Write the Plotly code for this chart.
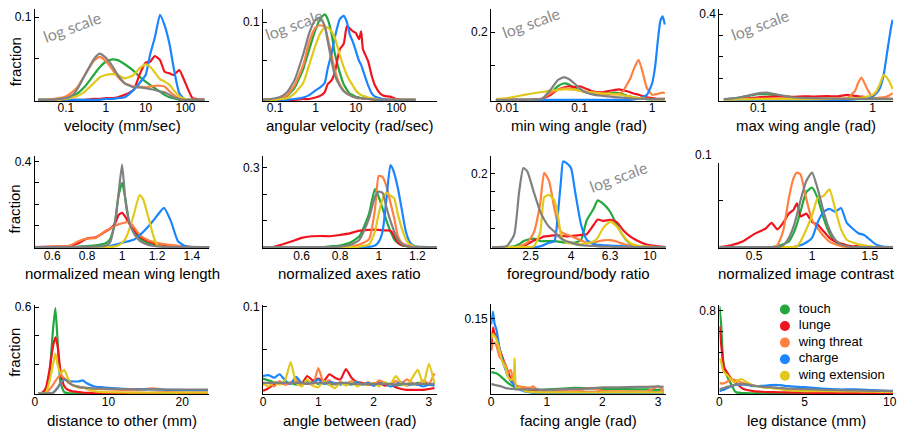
import plotly.graph_objects as go

W, H = 909, 433

NAMES = ["touch", "lunge", "wing threat", "charge", "wing extension", "other"]
COLORS = ["#22a83c", "#f0141e", "#ff8040", "#1a85ff", "#e3c81c", "#808080"]
LEGEND_NAMES = ["touch", "lunge", "wing threat", "charge", "wing extension"]

# ---- Panel 1: velocity (mm/sec), log x
VEL_X = [0.02, 0.03, 0.05, 0.07, 0.1, 0.15, 0.2, 0.3, 0.5, 0.7, 1, 1.5, 2, 3, 5, 7, 10, 13, 17, 23, 30, 40, 50, 70, 100, 150, 200, 300]
VEL_TOUCH = [0, 0, 0, 0.001, 0.002, 0.005, 0.008, 0.016, 0.03, 0.039, 0.046, 0.049, 0.048, 0.043, 0.035, 0.028, 0.022, 0.018, 0.014, 0.01, 0.006, 0.003, 0.002, 0, 0, 0, 0, 0]
VEL_LUNGE = [0, 0, 0, 0, 0, 0, 0, 0, 0.001, 0.001, 0.002, 0.002, 0.003, 0.006, 0.012, 0.03, 0.045, 0.046, 0.053, 0.048, 0.034, 0.032, 0.03, 0.036, 0.02, 0.002, 0.001, 0]
VEL_THREAT = [0, 0, 0.001, 0.002, 0.004, 0.01, 0.016, 0.03, 0.047, 0.052, 0.047, 0.036, 0.028, 0.02, 0.016, 0.016, 0.015, 0.016, 0.017, 0.017, 0.016, 0.01, 0.006, 0.001, 0, 0, 0, 0]
VEL_CHARGE = [0, 0, 0, 0, 0, 0, 0, 0, 0, 0, 0.001, 0.001, 0.002, 0.003, 0.012, 0.02, 0.03, 0.055, 0.075, 0.103, 0.09, 0.067, 0.04, 0.008, 0, 0, 0, 0]
VEL_WINGEXT = [0, 0, 0, 0, 0.001, 0.003, 0.005, 0.01, 0.02, 0.027, 0.03, 0.031, 0.03, 0.026, 0.03, 0.038, 0.043, 0.04, 0.033, 0.025, 0.022, 0.018, 0.012, 0.004, 0.001, 0, 0, 0]
VEL_OTHER = [0, 0, 0, 0.001, 0.002, 0.006, 0.014, 0.03, 0.049, 0.056, 0.051, 0.04, 0.03, 0.02, 0.015, 0.015, 0.014, 0.013, 0.012, 0.01, 0.009, 0.006, 0.003, 0.001, 0, 0, 0, 0]

# ---- Panel 2: angular velocity (rad/sec), log x
ANG_X = [0.03, 0.05, 0.1, 0.15, 0.2, 0.3, 0.5, 0.7, 1, 1.3, 1.7, 2, 2.5, 3, 4, 5, 6, 7, 8.5, 10, 12, 13.5, 15, 20, 25, 30, 40, 50, 70, 100, 150, 300]
ANG_TOUCH = [0, 0, 0.001, 0.003, 0.005, 0.015, 0.04, 0.065, 0.09, 0.104, 0.11, 0.104, 0.085, 0.06, 0.035, 0.02, 0.013, 0.008, 0.006, 0.004, 0.003, 0.002, 0.002, 0.001, 0.001, 0, 0, 0, 0, 0, 0, 0]
ANG_LUNGE = [0, 0, 0, 0, 0, 0, 0.001, 0.001, 0.003, 0.005, 0.01, 0.02, 0.025, 0.035, 0.065, 0.072, 0.095, 0.092, 0.088, 0.086, 0.078, 0.088, 0.065, 0.05, 0.03, 0.018, 0.008, 0.005, 0.004, 0.001, 0, 0]
ANG_THREAT = [0, 0, 0.001, 0.003, 0.006, 0.018, 0.045, 0.075, 0.093, 0.096, 0.094, 0.08, 0.058, 0.038, 0.02, 0.012, 0.008, 0.006, 0.004, 0.003, 0.002, 0.002, 0.001, 0.001, 0, 0, 0, 0, 0, 0, 0, 0]
ANG_CHARGE = [0, 0, 0, 0, 0, 0.001, 0.003, 0.006, 0.012, 0.016, 0.022, 0.04, 0.06, 0.08, 0.104, 0.108, 0.1, 0.085, 0.074, 0.063, 0.05, 0.045, 0.038, 0.019, 0.008, 0.004, 0.002, 0.001, 0, 0, 0, 0]
ANG_WINGEXT = [0, 0, 0, 0.001, 0.002, 0.008, 0.022, 0.045, 0.07, 0.085, 0.093, 0.093, 0.088, 0.08, 0.058, 0.042, 0.032, 0.025, 0.018, 0.012, 0.008, 0.006, 0.005, 0.003, 0.002, 0.001, 0, 0, 0, 0, 0, 0]
ANG_OTHER = [0, 0, 0.002, 0.005, 0.01, 0.025, 0.059, 0.086, 0.103, 0.106, 0.095, 0.076, 0.05, 0.032, 0.018, 0.011, 0.008, 0.006, 0.004, 0.003, 0.002, 0.002, 0.002, 0.001, 0.001, 0, 0, 0, 0, 0, 0, 0]

# ---- Panel 3: min wing angle (rad), log x
MIN_X = [0.007, 0.01, 0.015, 0.02, 0.03, 0.04, 0.05, 0.06, 0.07, 0.085, 0.1, 0.125, 0.15, 0.2, 0.25, 0.3, 0.35, 0.4, 0.45, 0.5, 0.57, 0.65, 0.75, 0.85, 1, 1.1, 1.2, 1.3, 1.4, 1.5]
MIN_TOUCH = [0, 0, 0, 0, 0.002, 0.02, 0.04, 0.048, 0.046, 0.035, 0.028, 0.022, 0.02, 0.018, 0.019, 0.021, 0.02, 0.016, 0.012, 0.01, 0.007, 0.005, 0.003, 0.002, 0.001, 0.001, 0.001, 0.001, 0.001, 0.001]
MIN_LUNGE = [0, 0, 0, 0, 0.003, 0.015, 0.03, 0.036, 0.04, 0.038, 0.04, 0.032, 0.025, 0.022, 0.026, 0.029, 0.031, 0.028, 0.025, 0.022, 0.018, 0.015, 0.01, 0.007, 0.005, 0.004, 0.003, 0.003, 0.003, 0.003]
MIN_THREAT = [0, 0, 0, 0, 0.003, 0.02, 0.03, 0.034, 0.033, 0.03, 0.027, 0.022, 0.019, 0.017, 0.016, 0.016, 0.018, 0.027, 0.045, 0.063, 0.095, 0.118, 0.077, 0.034, 0.015, 0.016, 0.017, 0.02, 0.021, 0.02]
MIN_CHARGE = [0, 0, 0, 0, 0, 0, 0, 0, 0, 0, 0, 0, 0, 0, 0, 0, 0, 0, 0, 0, 0.001, 0.003, 0.008, 0.015, 0.048, 0.097, 0.174, 0.232, 0.246, 0.222]
MIN_WINGEXT = [0.002, 0.005, 0.012, 0.017, 0.023, 0.027, 0.029, 0.031, 0.031, 0.03, 0.027, 0.024, 0.022, 0.019, 0.018, 0.017, 0.015, 0.013, 0.011, 0.01, 0.007, 0.005, 0.004, 0.003, 0.002, 0.001, 0.001, 0.001, 0.001, 0.001]
MIN_OTHER = [0, 0, 0, 0, 0.002, 0.03, 0.058, 0.066, 0.062, 0.048, 0.034, 0.021, 0.016, 0.012, 0.01, 0.008, 0.007, 0.006, 0.005, 0.004, 0.003, 0.003, 0.003, 0.002, 0.002, 0.002, 0.002, 0.002, 0.002, 0.002]

# ---- Panel 4: max wing angle (rad), log x
MAX_X = [0.05, 0.06, 0.07, 0.085, 0.1, 0.12, 0.15, 0.2, 0.25, 0.3, 0.4, 0.5, 0.6, 0.7, 0.75, 0.8, 0.9, 1, 1.08, 1.15, 1.25, 1.35, 1.45, 1.5]
MAX_TOUCH = [0.003, 0.006, 0.012, 0.02, 0.026, 0.026, 0.02, 0.012, 0.008, 0.006, 0.004, 0.003, 0.003, 0.003, 0.003, 0.003, 0.003, 0.003, 0.003, 0.003, 0.003, 0.003, 0.003, 0.003]
MAX_LUNGE = [0.001, 0.002, 0.004, 0.008, 0.012, 0.014, 0.016, 0.014, 0.016, 0.015, 0.017, 0.016, 0.023, 0.018, 0.016, 0.015, 0.012, 0.008, 0.005, 0.004, 0.004, 0.004, 0.004, 0.004]
MAX_THREAT = [0.001, 0.002, 0.003, 0.004, 0.005, 0.006, 0.007, 0.007, 0.007, 0.006, 0.006, 0.006, 0.008, 0.04, 0.08, 0.104, 0.05, 0.012, 0.008, 0.01, 0.012, 0.016, 0.025, 0.032]
MAX_CHARGE = [0, 0, 0, 0, 0, 0, 0, 0, 0, 0, 0, 0, 0, 0.002, 0.004, 0.006, 0.01, 0.015, 0.03, 0.05, 0.115, 0.23, 0.336, 0.374]
MAX_WINGEXT = [0.001, 0.001, 0.002, 0.002, 0.003, 0.003, 0.003, 0.003, 0.003, 0.003, 0.004, 0.005, 0.006, 0.007, 0.008, 0.01, 0.015, 0.023, 0.04, 0.069, 0.115, 0.1, 0.069, 0.05]
MAX_OTHER = [0.003, 0.007, 0.012, 0.022, 0.03, 0.034, 0.023, 0.012, 0.009, 0.008, 0.006, 0.005, 0.004, 0.004, 0.004, 0.004, 0.004, 0.004, 0.004, 0.004, 0.004, 0.004, 0.004, 0.004]

# ---- Panel 5: normalized mean wing length
WL_X = [0.5, 0.6, 0.65, 0.7, 0.75, 0.8, 0.85, 0.9, 0.93, 0.96, 0.98, 1.0, 1.02, 1.04, 1.07, 1.1, 1.12, 1.15, 1.18, 1.2, 1.24, 1.28, 1.32, 1.36, 1.4, 1.5]
WL_TOUCH = [0, 0, 0, 0, 0.002, 0.005, 0.008, 0.015, 0.035, 0.12, 0.24, 0.3, 0.22, 0.12, 0.07, 0.043, 0.03, 0.018, 0.01, 0.006, 0.003, 0.002, 0.001, 0, 0, 0]
WL_LUNGE = [0, 0.002, 0.003, 0.006, 0.018, 0.04, 0.046, 0.07, 0.085, 0.11, 0.15, 0.16, 0.14, 0.11, 0.08, 0.05, 0.04, 0.027, 0.018, 0.012, 0.007, 0.004, 0.002, 0.001, 0, 0]
WL_THREAT = [0, 0.001, 0.003, 0.006, 0.027, 0.04, 0.043, 0.073, 0.085, 0.1, 0.106, 0.111, 0.115, 0.119, 0.091, 0.058, 0.045, 0.032, 0.024, 0.02, 0.014, 0.01, 0.006, 0.003, 0.001, 0]
WL_CHARGE = [0, 0, 0, 0, 0, 0, 0, 0.002, 0.005, 0.01, 0.015, 0.02, 0.024, 0.028, 0.035, 0.055, 0.07, 0.096, 0.125, 0.146, 0.183, 0.12, 0.027, 0.005, 0, 0]
WL_WINGEXT = [0, 0, 0, 0, 0, 0, 0, 0, 0.001, 0.003, 0.008, 0.02, 0.04, 0.08, 0.16, 0.243, 0.225, 0.14, 0.05, 0.01, 0, 0, 0, 0, 0, 0]
WL_OTHER = [0, 0, 0, 0, 0, 0.001, 0.002, 0.005, 0.02, 0.12, 0.25, 0.385, 0.21, 0.12, 0.06, 0.03, 0.02, 0.01, 0.005, 0.003, 0.001, 0, 0, 0, 0, 0]

# ---- Panel 6: normalized axes ratio
AR_X = [0.4, 0.45, 0.5, 0.55, 0.6, 0.65, 0.7, 0.75, 0.8, 0.85, 0.9, 0.95, 0.98, 1.0, 1.02, 1.04, 1.06, 1.07, 1.08, 1.1, 1.12, 1.14, 1.16, 1.18, 1.2, 1.3]
AR_TOUCH = [0, 0, 0, 0, 0, 0, 0, 0.003, 0.006, 0.016, 0.041, 0.127, 0.22, 0.189, 0.146, 0.1, 0.06, 0.045, 0.028, 0.015, 0.006, 0.003, 0.001, 0, 0, 0]
AR_LUNGE = [0, 0, 0.01, 0.022, 0.035, 0.041, 0.042, 0.041, 0.046, 0.052, 0.062, 0.065, 0.066, 0.065, 0.064, 0.063, 0.062, 0.055, 0.041, 0.016, 0.008, 0.004, 0.002, 0.001, 0, 0]
AR_THREAT = [0, 0, 0, 0, 0, 0, 0, 0, 0, 0.002, 0.01, 0.03, 0.14, 0.27, 0.265, 0.23, 0.17, 0.14, 0.11, 0.04, 0.015, 0.008, 0.004, 0.002, 0, 0]
AR_CHARGE = [0, 0, 0, 0, 0, 0, 0, 0, 0, 0, 0, 0.001, 0.006, 0.02, 0.06, 0.183, 0.31, 0.3, 0.28, 0.22, 0.14, 0.06, 0.02, 0.006, 0.002, 0]
AR_WINGEXT = [0, 0, 0, 0, 0, 0, 0, 0, 0, 0, 0.002, 0.01, 0.059, 0.127, 0.183, 0.205, 0.195, 0.19, 0.185, 0.121, 0.07, 0.03, 0.01, 0.004, 0.001, 0]
AR_OTHER = [0, 0, 0, 0, 0, 0, 0, 0, 0.002, 0.008, 0.028, 0.109, 0.19, 0.21, 0.205, 0.15, 0.1, 0.08, 0.059, 0.028, 0.012, 0.005, 0.002, 0, 0, 0]

# ---- Panel 7: foreground/body ratio, log x
FG_X = [1.6, 1.9, 2.07, 2.19, 2.3, 2.41, 2.6, 2.8, 2.93, 3.1, 3.3, 3.45, 3.56, 3.65, 3.8, 4.0, 4.2, 4.5, 4.8, 5.2, 5.45, 5.8, 6.3, 6.8, 7.35, 7.9, 8.6, 9.6, 11, 12]
FG_TOUCH = [0, 0, 0.002, 0.008, 0.016, 0.02, 0.023, 0.016, 0.016, 0.016, 0.016, 0.015, 0.014, 0.013, 0.012, 0.012, 0.012, 0.02, 0.073, 0.104, 0.127, 0.118, 0.096, 0.06, 0.029, 0.01, 0.003, 0.001, 0, 0]
FG_LUNGE = [0, 0, 0, 0, 0.002, 0.008, 0.018, 0.024, 0.029, 0.03, 0.032, 0.032, 0.031, 0.03, 0.029, 0.03, 0.031, 0.033, 0.035, 0.06, 0.075, 0.071, 0.074, 0.068, 0.045, 0.03, 0.018, 0.007, 0.002, 0]
FG_THREAT = [0, 0, 0, 0.002, 0.006, 0.012, 0.04, 0.12, 0.202, 0.18, 0.104, 0.06, 0.042, 0.038, 0.034, 0.03, 0.025, 0.018, 0.012, 0.012, 0.015, 0.018, 0.019, 0.015, 0.008, 0.004, 0.002, 0.001, 0, 0]
FG_CHARGE = [0, 0, 0, 0, 0, 0, 0, 0.002, 0.006, 0.012, 0.016, 0.1, 0.18, 0.233, 0.228, 0.215, 0.149, 0.06, 0.02, 0.008, 0.006, 0.005, 0.004, 0.003, 0.002, 0.001, 0, 0, 0, 0]
FG_WINGEXT = [0, 0, 0, 0, 0, 0, 0.002, 0.04, 0.135, 0.142, 0.127, 0.08, 0.034, 0.02, 0.012, 0.01, 0.009, 0.008, 0.01, 0.015, 0.025, 0.051, 0.069, 0.056, 0.03, 0.012, 0.004, 0.001, 0, 0]
FG_OTHER = [0, 0.003, 0.034, 0.149, 0.215, 0.206, 0.149, 0.096, 0.075, 0.055, 0.042, 0.03, 0.024, 0.02, 0.016, 0.012, 0.008, 0.005, 0.004, 0.003, 0.002, 0.001, 0.001, 0, 0, 0, 0, 0, 0, 0]

# ---- Panel 8: normalized image contrast
IC_X = [0.2, 0.3, 0.4, 0.45, 0.5, 0.55, 0.6, 0.65, 0.7, 0.75, 0.8, 0.84, 0.87, 0.9, 0.95, 1.0, 1.05, 1.1, 1.15, 1.2, 1.25, 1.3, 1.35, 1.4, 1.45, 1.5, 1.55, 1.6, 1.7]
IC_TOUCH = [0, 0, 0, 0, 0, 0, 0, 0, 0.001, 0.003, 0.006, 0.015, 0.025, 0.038, 0.059, 0.064, 0.052, 0.031, 0.015, 0.006, 0.002, 0.001, 0, 0, 0, 0, 0, 0, 0]
IC_LUNGE = [0, 0.002, 0.006, 0.01, 0.014, 0.017, 0.02, 0.026, 0.019, 0.026, 0.036, 0.04, 0.047, 0.033, 0.036, 0.027, 0.024, 0.017, 0.01, 0.006, 0.004, 0.002, 0.001, 0.001, 0, 0, 0, 0, 0]
IC_THREAT = [0, 0, 0, 0, 0, 0, 0, 0, 0.002, 0.017, 0.053, 0.074, 0.08, 0.078, 0.052, 0.029, 0.02, 0.012, 0.006, 0.003, 0.001, 0, 0, 0, 0, 0, 0, 0, 0]
IC_CHARGE = [0, 0, 0, 0, 0, 0, 0, 0, 0, 0, 0, 0, 0.001, 0.002, 0.005, 0.01, 0.027, 0.038, 0.041, 0.038, 0.042, 0.026, 0.02, 0.015, 0.013, 0.008, 0.003, 0.001, 0]
IC_WINGEXT = [0, 0, 0, 0, 0, 0, 0, 0, 0, 0, 0, 0, 0.001, 0.006, 0.019, 0.034, 0.053, 0.055, 0.062, 0.041, 0.019, 0.008, 0.005, 0.003, 0.002, 0.001, 0, 0, 0]
IC_OTHER = [0, 0, 0, 0, 0, 0, 0, 0, 0, 0.002, 0.01, 0.022, 0.035, 0.05, 0.071, 0.08, 0.062, 0.038, 0.019, 0.008, 0.003, 0.001, 0, 0, 0, 0, 0, 0, 0]

# ---- Panel 9: distance to other (mm)
DIST_X = [0.5, 1, 1.5, 2, 2.5, 2.8, 3.1, 3.5, 4, 4.5, 5, 6, 6.5, 7, 8, 9, 10, 12, 14, 16, 18, 20, 22, 23.5]
DIST_TOUCH = [0, 0.001, 0.016, 0.14, 0.457, 0.593, 0.367, 0.072, 0.009, 0.002, 0, 0, 0, 0, 0, 0, 0, 0, 0, 0, 0, 0, 0, 0]
DIST_LUNGE = [0, 0.005, 0.038, 0.163, 0.333, 0.39, 0.33, 0.15, 0.05, 0.025, 0.016, 0.009, 0.006, 0.004, 0.003, 0.003, 0.003, 0.003, 0.003, 0.003, 0.008, 0.003, 0.003, 0.003]
DIST_THREAT = [0, 0, 0.005, 0.027, 0.061, 0.085, 0.106, 0.129, 0.106, 0.077, 0.061, 0.045, 0.04, 0.038, 0.033, 0.03, 0.027, 0.025, 0.024, 0.035, 0.022, 0.02, 0.02, 0.02]
DIST_CHARGE = [0, 0, 0, 0, 0.005, 0.02, 0.038, 0.072, 0.095, 0.09, 0.084, 0.084, 0.09, 0.072, 0.05, 0.043, 0.038, 0.032, 0.03, 0.027, 0.025, 0.023, 0.022, 0.022]
DIST_WINGEXT = [0, 0, 0.005, 0.084, 0.208, 0.276, 0.2, 0.14, 0.163, 0.106, 0.061, 0.038, 0.045, 0.03, 0.016, 0.01, 0.008, 0.006, 0.005, 0.005, 0.005, 0.005, 0.005, 0.005]
DIST_OTHER = [0, 0, 0, 0, 0.005, 0.02, 0.038, 0.072, 0.1, 0.084, 0.061, 0.045, 0.04, 0.038, 0.035, 0.033, 0.032, 0.03, 0.028, 0.027, 0.027, 0.027, 0.027, 0.027]

# ---- Panel 10: angle between (rad)
AB_X = [0.0, 0.1, 0.2, 0.3, 0.4, 0.5, 0.6, 0.7, 0.8, 0.9, 1.0, 1.1, 1.2, 1.3, 1.4, 1.5, 1.6, 1.7, 1.8, 1.9, 2.0, 2.1, 2.2, 2.3, 2.4, 2.5, 2.6, 2.7, 2.8, 2.9, 3.0, 3.1]
AB_TOUCH = [0.017, 0.015, 0.013, 0.012, 0.011, 0.012, 0.01, 0.012, 0.011, 0.013, 0.011, 0.012, 0.01, 0.011, 0.012, 0.011, 0.01, 0.012, 0.011, 0.01, 0.011, 0.012, 0.01, 0.011, 0.009, 0.01, 0.011, 0.01, 0.012, 0.011, 0.01, 0.011]
AB_LUNGE = [0.003, 0.006, 0.01, 0.012, 0.011, 0.012, 0.013, 0.011, 0.02, 0.015, 0.017, 0.014, 0.022, 0.018, 0.016, 0.028, 0.018, 0.013, 0.012, 0.01, 0.011, 0.012, 0.009, 0.01, 0.007, 0.005, 0.004, 0.004, 0.004, 0.004, 0.005, 0.006]
AB_THREAT = [0.01, 0.012, 0.008, 0.014, 0.01, 0.012, 0.016, 0.011, 0.013, 0.009, 0.029, 0.012, 0.015, 0.01, 0.013, 0.011, 0.014, 0.012, 0.01, 0.013, 0.009, 0.015, 0.012, 0.01, 0.014, 0.011, 0.016, 0.012, 0.01, 0.015, 0.011, 0.023]
AB_CHARGE = [0.02, 0.021, 0.018, 0.022, 0.015, 0.011, 0.019, 0.012, 0.014, 0.012, 0.016, 0.011, 0.013, 0.012, 0.01, 0.012, 0.011, 0.013, 0.01, 0.012, 0.009, 0.011, 0.012, 0.008, 0.01, 0.013, 0.009, 0.011, 0.01, 0.008, 0.01, 0.009]
AB_WINGEXT = [0.012, 0.008, 0.013, 0.01, 0.015, 0.036, 0.012, 0.008, 0.016, 0.009, 0.007, 0.014, 0.01, 0.006, 0.012, 0.009, 0.013, 0.008, 0.011, 0.01, 0.012, 0.008, 0.013, 0.01, 0.02, 0.012, 0.009, 0.018, 0.027, 0.01, 0.034, 0.012]
AB_OTHER = [0.012, 0.012, 0.012, 0.012, 0.012, 0.012, 0.012, 0.012, 0.011, 0.012, 0.012, 0.012, 0.012, 0.011, 0.012, 0.012, 0.011, 0.011, 0.011, 0.011, 0.011, 0.011, 0.011, 0.011, 0.01, 0.011, 0.011, 0.011, 0.011, 0.011, 0.011, 0.011]

# ---- Panel 11: facing angle (rad)
FA_X = [0, 0.03, 0.06, 0.1, 0.15, 0.2, 0.25, 0.3, 0.35, 0.4, 0.42, 0.45, 0.5, 0.6, 0.7, 0.75, 0.8, 1.0, 1.2, 1.5, 1.8, 2.0, 2.3, 2.6, 2.8, 3.0, 3.1]
FA_TOUCH = [0.042, 0.042, 0.041, 0.04, 0.036, 0.031, 0.026, 0.021, 0.017, 0.014, 0.013, 0.011, 0.009, 0.007, 0.006, 0.006, 0.006, 0.008, 0.009, 0.011, 0.01, 0.009, 0.009, 0.008, 0.008, 0.007, 0.008]
FA_LUNGE = [0.086, 0.132, 0.12, 0.112, 0.09, 0.073, 0.058, 0.044, 0.03, 0.021, 0.018, 0.014, 0.011, 0.009, 0.008, 0.007, 0.007, 0.005, 0.004, 0.003, 0.003, 0.003, 0.003, 0.002, 0.002, 0.002, 0.002]
FA_THREAT = [0.089, 0.1, 0.102, 0.093, 0.073, 0.067, 0.06, 0.04, 0.047, 0.024, 0.02, 0.016, 0.014, 0.012, 0.011, 0.014, 0.01, 0.005, 0.004, 0.004, 0.011, 0.005, 0.004, 0.004, 0.004, 0.014, 0.005]
FA_CHARGE = [0.138, 0.164, 0.14, 0.125, 0.089, 0.067, 0.05, 0.034, 0.025, 0.018, 0.015, 0.012, 0.008, 0.004, 0.002, 0.001, 0.001, 0.001, 0.001, 0.001, 0.001, 0.001, 0.001, 0.001, 0.001, 0.001, 0.001]
FA_WINGEXT = [0.109, 0.119, 0.115, 0.106, 0.086, 0.063, 0.053, 0.034, 0.027, 0.03, 0.07, 0.01, 0.011, 0.005, 0.003, 0.003, 0.002, 0.002, 0.002, 0.002, 0.002, 0.002, 0.002, 0.002, 0.002, 0.002, 0.002]
FA_OTHER = [0.019, 0.018, 0.017, 0.016, 0.015, 0.013, 0.011, 0.01, 0.009, 0.009, 0.009, 0.008, 0.008, 0.008, 0.008, 0.008, 0.008, 0.007, 0.008, 0.009, 0.01, 0.012, 0.012, 0.013, 0.013, 0.014, 0.013]

# ---- Panel 12: leg distance (mm)
LEG_X = [0, 0.1, 0.2, 0.3, 0.5, 0.7, 0.9, 1.0, 1.3, 1.5, 2, 2.5, 3, 3.5, 4, 5, 6, 7, 8, 9, 10, 10.2]
LEG_TOUCH = [0.84, 0.67, 0.35, 0.227, 0.148, 0.085, 0.022, 0.01, 0.004, 0.002, 0.001, 0, 0, 0, 0, 0, 0, 0, 0, 0, 0, 0]
LEG_LUNGE = [0.65, 0.48, 0.32, 0.243, 0.189, 0.139, 0.11, 0.1, 0.054, 0.038, 0.022, 0.016, 0.013, 0.011, 0.009, 0.006, 0.004, 0.003, 0.002, 0.002, 0.002, 0.002]
LEG_THREAT = [0.1, 0.097, 0.095, 0.1, 0.117, 0.132, 0.13, 0.126, 0.105, 0.095, 0.076, 0.064, 0.054, 0.045, 0.038, 0.031, 0.028, 0.026, 0.025, 0.024, 0.023, 0.023]
LEG_CHARGE = [0.022, 0.028, 0.033, 0.038, 0.055, 0.07, 0.08, 0.085, 0.085, 0.085, 0.07, 0.072, 0.079, 0.082, 0.07, 0.06, 0.047, 0.038, 0.038, 0.031, 0.025, 0.025]
LEG_WINGEXT = [0.337, 0.306, 0.227, 0.2, 0.17, 0.132, 0.105, 0.117, 0.139, 0.117, 0.076, 0.06, 0.054, 0.042, 0.031, 0.022, 0.022, 0.02, 0.018, 0.016, 0.015, 0.015]
LEG_OTHER = [0.038, 0.045, 0.05, 0.054, 0.065, 0.07, 0.085, 0.09, 0.09, 0.09, 0.076, 0.063, 0.06, 0.053, 0.047, 0.041, 0.035, 0.031, 0.028, 0.025, 0.022, 0.022]

# ---------------- layout configuration (pixels) ----------------
COLS = [(32, 208), (262, 437), (492, 668), (722, 897)]
ROWS = [(4, 97), (153, 246), (303, 394)]
TITLE_Y = [122, 272, 420]
FRACTION_Y = [57, 206, 351]

PANELS = [
    dict(x=VEL_X, ys=[VEL_TOUCH, VEL_LUNGE, VEL_THREAT, VEL_CHARGE, VEL_WINGEXT, VEL_OTHER],
         title="velocity (mm/sec)", xtype="log", xrange=[-1.78, 2.6],
         xt=[0.1, 1, 10, 100], xl=["0.1", "1", "10", "100"], ytop=0.11,
         yt=[0.05, 0.1], yl=["", "0.1"], log_label=(70, 22)),
    dict(x=ANG_X, ys=[ANG_TOUCH, ANG_LUNGE, ANG_THREAT, ANG_CHARGE, ANG_WINGEXT, ANG_OTHER],
         title="angular velocity (rad/sec)", xtype="log", xrange=[-1.3, 3.0],
         xt=[0.1, 1, 10, 100], xl=["0.1", "1", "10", "100"], ytop=0.117,
         yt=[0.05, 0.1], yl=["", "0.1"], log_label=(293, 20)),
    dict(x=MIN_X, ys=[MIN_TOUCH, MIN_LUNGE, MIN_THREAT, MIN_CHARGE, MIN_WINGEXT, MIN_OTHER],
         title="min wing angle (rad)", xtype="log", xrange=[-2.22, 0.19],
         xt=[0.01, 0.1, 1], xl=["0.01", "0.1", "1"], ytop=0.268,
         yt=[0.1, 0.2], yl=["", "0.2"], log_label=(532, 18)),
    dict(x=MAX_X, ys=[MAX_TOUCH, MAX_LUNGE, MAX_THREAT, MAX_CHARGE, MAX_WINGEXT, MAX_OTHER],
         title="max wing angle (rad)", xtype="log", xrange=[-1.34, 0.18],
         xt=[0.1, 1], xl=["0.1", "1"], ytop=0.424,
         yt=[0.1, 0.2, 0.3, 0.4], yl=["", "", "", "0.4"], log_label=(763, 20)),
    dict(x=WL_X, ys=[WL_TOUCH, WL_LUNGE, WL_THREAT, WL_CHARGE, WL_WINGEXT, WL_OTHER],
         title="normalized mean wing length", xtype="linear", xrange=[0.5, 1.5],
         xt=[0.6, 0.8, 1, 1.2, 1.4], xl=["0.6", "0.8", "1", "1.2", "1.4"], ytop=0.424,
         yt=[0.1, 0.2, 0.3, 0.4], yl=["", "", "", "0.4"]),
    dict(x=AR_X, ys=[AR_TOUCH, AR_LUNGE, AR_THREAT, AR_CHARGE, AR_WINGEXT, AR_OTHER],
         title="normalized axes ratio", xtype="linear", xrange=[0.4, 1.3],
         xt=[0.6, 0.8, 1, 1.2], xl=["0.6", "0.8", "1", "1.2"], ytop=0.344,
         yt=[0.1, 0.2, 0.3], yl=["", "", "0.3"]),
    dict(x=FG_X, ys=[FG_TOUCH, FG_LUNGE, FG_THREAT, FG_CHARGE, FG_WINGEXT, FG_OTHER],
         title="foreground/body ratio", xtype="log", xrange=[0.2, 1.08],
         xt=[2.5, 4, 6.3, 10], xl=["2.5", "4", "6.3", "10"], ytop=0.247,
         yt=[0.05, 0.1, 0.15, 0.2], yl=["", "", "", "0.2"], log_label=(620, 173)),
    dict(x=IC_X, ys=[IC_TOUCH, IC_LUNGE, IC_THREAT, IC_CHARGE, IC_WINGEXT, IC_OTHER],
         title="normalized image contrast", xtype="linear", xrange=[0.2, 1.7],
         xt=[0.5, 1, 1.5], xl=["0.5", "1", "1.5"], ytop=0.0901, top_px=160,
         yt=[0.05], yl=[""], extra_label=(152, "0.1")),
    dict(x=DIST_X, ys=[DIST_TOUCH, DIST_LUNGE, DIST_THREAT, DIST_CHARGE, DIST_WINGEXT, DIST_OTHER],
         title="distance to other (mm)", xtype="linear", xrange=[0, 23.7],
         xt=[0, 10, 20], xl=["0", "10", "20"], ytop=0.618,
         yt=[0.2, 0.4, 0.6], yl=["", "", "0.6"]),
    dict(x=AB_X, ys=[AB_TOUCH, AB_LUNGE, AB_THREAT, AB_CHARGE, AB_WINGEXT, AB_OTHER],
         title="angle between (rad)", xtype="linear", xrange=[0, 3.14],
         xt=[0, 1, 2, 3], xl=["0", "1", "2", "3"], ytop=0.1022,
         yt=[0.05, 0.1], yl=["", "0.1"]),
    dict(x=FA_X, ys=[FA_TOUCH, FA_LUNGE, FA_THREAT, FA_CHARGE, FA_WINGEXT, FA_OTHER],
         title="facing angle (rad)", xtype="linear", xrange=[0, 3.14],
         xt=[0, 1, 2, 3], xl=["0", "1", "2", "3"], ytop=0.18, top_px=302,
         yt=[0.05, 0.1, 0.15], yl=["", "", "0.15"]),
    dict(x=LEG_X, ys=[LEG_TOUCH, LEG_LUNGE, LEG_THREAT, LEG_CHARGE, LEG_WINGEXT, LEG_OTHER],
         title="leg distance (mm)", xtype="linear", xrange=[0, 10.2],
         xt=[0, 5, 10], xl=["0", "5", "10"], ytop=0.86,
         yt=[0.2, 0.4, 0.6, 0.8], yl=["", "", "", "0.8"]),
]

FONT = "Liberation Sans, Arial, Helvetica, sans-serif"

fig = go.Figure()
layout = dict(
    width=W, height=H, margin=dict(l=0, r=0, t=0, b=0),
    paper_bgcolor="white", plot_bgcolor="white",
    font=dict(family=FONT, color="black", size=12),
    showlegend=False,
)
annotations = []

for i, p in enumerate(PANELS):
    r, c = divmod(i, 4)
    sfx = "" if i == 0 else str(i + 1)
    for name, yv, col in zip(NAMES, p["ys"], COLORS):
        assert len(yv) == len(p["x"]), (i, name)
        fig.add_trace(go.Scatter(
            x=p["x"], y=yv, mode="lines", name=name,
            line=dict(color=col, width=2.2, shape="spline", smoothing=0.5),
            xaxis="x" + sfx, yaxis="y" + sfx, hoverinfo="skip"))
    c0, c1 = COLS[c]
    top = p.get("top_px", ROWS[r][0])
    bot = ROWS[r][1]
    ytop = p["ytop"]
    layout["xaxis" + sfx] = dict(
        domain=[c0 / W, c1 / W], anchor="y" + sfx, type=p["xtype"], range=p["xrange"],
        tickmode="array", tickvals=p["xt"], ticktext=p["xl"], ticks="",
        ticklabelstandoff=-4,
        showline=True, linecolor="black", linewidth=1, showgrid=False, zeroline=False,
        tickfont=dict(size=12, family=FONT, color="black"))
    layout["yaxis" + sfx] = dict(
        domain=[1 - bot / H, 1 - top / H], anchor="x" + sfx,
        range=[-ytop * 0.012, ytop], tickmode="array", tickvals=p["yt"], ticktext=p["yl"],
        ticks="inside", ticklen=4, tickwidth=1, tickcolor="black",
        showline=True, linecolor="black", linewidth=1, showgrid=False, zeroline=False,
        tickfont=dict(size=12, family=FONT, color="black"))
    annotations.append(dict(
        text=p["title"], x=(c0 + c1) / 2 / W, y=1 - TITLE_Y[r] / H, xref="paper", yref="paper",
        xanchor="center", yanchor="middle", showarrow=False,
        font=dict(size=15, family=FONT, color="black")))
    if "log_label" in p:
        lx, ly = p["log_label"]
        annotations.append(dict(
            text="log scale", x=lx / W, y=1 - ly / H, xref="paper", yref="paper",
            xanchor="center", yanchor="middle", showarrow=False, textangle=-20,
            font=dict(size=16, family="Lato, Open Sans, sans-serif", color="#8c8c8c")))
    if "extra_label" in p:
        ypx, txt = p["extra_label"]
        annotations.append(dict(
            text=txt, x=(c0 - 5) / W, y=1 - ypx / H, xref="paper", yref="paper",
            xanchor="right", yanchor="middle", showarrow=False,
            font=dict(size=12, family=FONT, color="black")))

for fy in FRACTION_Y:
    annotations.append(dict(
        text="fraction", x=12 / W, y=1 - fy / H, xref="paper", yref="paper",
        xanchor="center", yanchor="middle", showarrow=False, textangle=-90,
        font=dict(size=15, family=FONT, color="black")))

# legend drawn on an auxiliary (hidden) axis pair: swatch column 0, label column 1
fig.add_trace(go.Scatter(
    x=[0] * len(LEGEND_NAMES), y=LEGEND_NAMES, mode="markers",
    marker=dict(color=COLORS[:5], size=10), xaxis="x13", yaxis="y13",
    hoverinfo="skip", cliponaxis=False))
fig.add_trace(go.Scatter(
    x=[1] * len(LEGEND_NAMES), y=LEGEND_NAMES, mode="text", text=LEGEND_NAMES,
    textposition="middle right", textfont=dict(size=13, family=FONT, color="black"),
    xaxis="x13", yaxis="y13", hoverinfo="skip", cliponaxis=False))
layout["xaxis13"] = dict(domain=[780 / W, 905 / W], anchor="y13", range=[-8 / 14, 117 / 14],
                         visible=False, fixedrange=True)
layout["yaxis13"] = dict(domain=[1 - 383.5 / H, 1 - 299.6 / H], anchor="x13", type="category",
                         categoryorder="array", categoryarray=LEGEND_NAMES,
                         range=[4.5, -0.5], visible=False, fixedrange=True)

layout["annotations"] = annotations
fig.update_layout(**layout)

fig.write_html("out.html", config={"displayModeBar": False, "staticPlot": True},
               post_script="document.body.style.margin='0';")
